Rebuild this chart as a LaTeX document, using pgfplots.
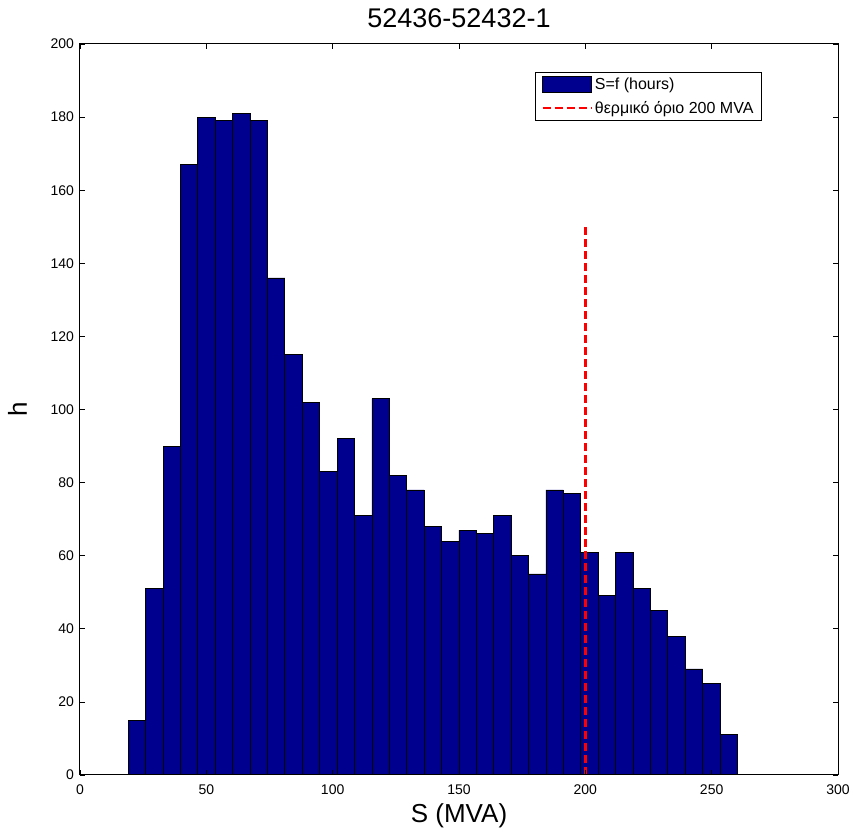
\documentclass[border=0pt]{standalone}
\usepackage{fontspec}
\setmainfont{Liberation Sans}
\usepackage{pgfplots}
\pgfplotsset{compat=1.18}
\definecolor{barblue}{RGB}{0,0,142}
\definecolor{limred}{RGB}{255,0,0}
\begin{document}
\begin{tikzpicture}
\begin{axis}[
  scale only axis, width=758pt, height=731pt,
  xmin=0, xmax=300, ymin=0, ymax=200,
  xtick={0,50,...,300}, ytick={0,20,...,200},
  tick align=inside, major tick length=5pt,
  tick style={black, line width=0.6pt},
  axis line style={line width=1pt},
  /pgf/number format/assume math mode=true,
  ticklabel style={font=\fontsize{14}{16}\selectfont},
  xticklabel style={anchor=base, yshift=-20pt},
  yticklabel style={xshift=-2.5pt},
  title={52436-52432-1},
  title style={font=\fontsize{27}{30}\selectfont, at={(axis description cs:0.5,1)}, anchor=base, yshift=10pt},
  xlabel={S (MVA)}, ylabel={h},
  label style={font=\fontsize{26}{30}\selectfont},
  xlabel style={at={(axis description cs:0.5,0)}, anchor=base, yshift=-48pt},
  ylabel style={at={(axis description cs:-0.07,0.5)}, anchor=base},
  legend style={at={(axis description cs:0.8997,0.9617)}, anchor=north east, draw=black, line width=1pt,
    font=\fontsize{16}{19}\selectfont, cells={anchor=west}, inner xsep=6pt, inner ysep=3.5pt, row sep=6pt},
  legend cell align=left,
  axis on top,
]
\addplot[ybar interval, fill=barblue, draw=black, line width=0.8pt,
  legend image code/.code={\draw[fill=barblue, draw=black, line width=0.8pt] (0pt,-8pt) rectangle (49pt,8pt);}]
coordinates {
(19.07,15) (25.96,51) (32.85,90) (39.74,167) (46.63,180) (53.52,179) (60.41,181)
(67.30,179) (74.19,136) (81.08,115) (87.97,102) (94.86,83) (101.75,92) (108.64,71)
(115.53,103) (122.42,82) (129.31,78) (136.20,68) (143.09,64) (149.98,67) (156.87,66)
(163.76,71) (170.65,60) (177.54,55) (184.43,78) (191.32,77) (198.21,61) (205.10,49)
(211.99,61) (218.88,51) (225.77,45) (232.66,38) (239.55,29) (246.44,25) (253.33,11)
(260.22,11)
};
\addlegendentry{S=f (hours)}
\addplot[limred, line width=2.5pt, dash pattern=on 8pt off 4pt,
  legend image code/.code={\draw[limred, line width=2.5pt, dash pattern=on 8pt off 4pt] (0pt,0pt) -- (49pt,0pt);}]
coordinates {(200,0) (200,150)};
\addlegendentry{θερμικό όριο 200 MVA}
\end{axis}
\pgfresetboundingbox
\path[use as bounding box] (current axis.south west) ++(-80pt,-59pt) rectangle ([xshift=16pt,yshift=44pt]current axis.north east);
\end{tikzpicture}
\end{document}
